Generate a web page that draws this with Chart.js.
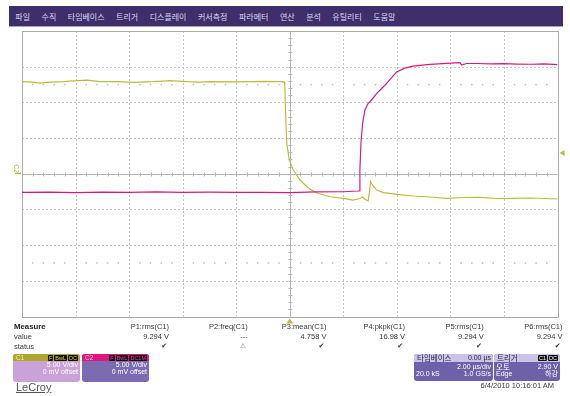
<!DOCTYPE html>
<html>
<head>
<meta charset="utf-8">
<script src="https://cdn.jsdelivr.net/npm/chart.js@4/dist/chart.umd.min.js"></script>
<style>
html,body{margin:0;padding:0;background:#fff;}
#wrap{position:relative;width:570px;height:396px;overflow:hidden;background:#fff;
  font-family:"Liberation Sans",Arial,"Noto Sans CJK KR",sans-serif;color:#333;}
#scope{position:absolute;left:0;top:0;}
#menu{position:absolute;left:9px;top:6px;width:554px;height:21px;background:#3e2e6c;
  border-bottom:1px solid #a9a3c4;display:flex;gap:11.5px;padding-left:6.3px;box-sizing:border-box;
  align-items:center;font:8px "Noto Sans CJK KR",sans-serif;color:#dcdaf0;}
.cell{position:absolute;font-size:7.5px;line-height:9px;white-space:nowrap;color:#3a3a3a;}
.rt{text-align:right;}
.box{position:absolute;border-radius:3px;overflow:hidden;color:#fff;font-size:7px;line-height:7.2px;}
.box .hd{height:7px;position:relative;font-size:6.5px;line-height:7px;}
.box .hd .nm{position:absolute;left:3px;top:0;}
.box .hd .bd{position:absolute;right:2px;top:0.5px;display:flex;gap:1px;}
.box .hd .bd b{background:#111;font-weight:normal;font-size:5.5px;line-height:6px;padding:0 1px;border-radius:1px;}
.box .row{position:relative;height:7.2px;padding:0 2px;}
.box .row .l{position:absolute;left:2px;}
.box .row .r{position:absolute;right:2px;}
</style>
</head>
<body>
<div id="wrap">
  <div id="menu"></div>
  <canvas id="scope" width="570" height="396"></canvas>
  <div id="meas"></div>

  <div class="box" style="left:13px;top:354px;width:67px;height:28px;background:#c8a2d8;">
    <div class="hd" style="background:#aea82a;"><span class="nm" style="color:#f4f0b0">C1</span>
      <span class="bd" style="color:#d9d24a"><b>F</b><b>BwL</b><b>DC</b></span></div>
    <div class="row"><span class="r">5.00 V/div</span></div>
    <div class="row"><span class="r">0 mV offset</span></div>
  </div>
  <div class="box" style="left:82px;top:354px;width:67px;height:28px;background:#7b6bb0;">
    <div class="hd" style="background:#e0177f;"><span class="nm" style="color:#ffc8e4">C2</span>
      <span class="bd" style="color:#ff3a9c"><b>F</b><b>BwL</b><b>DC1M</b></span></div>
    <div class="row"><span class="r">5.00 V/div</span></div>
    <div class="row"><span class="r">0 mV offset</span></div>
  </div>

  <div class="box" style="left:414px;top:354px;width:79px;height:27px;background:#6f60aa;">
    <div class="hd" style="background:#cbc4e8;color:#2e2a48;height:8px;line-height:8px;font-size:7px;">
      <span class="nm" style="font-family:'Noto Sans CJK KR';font-size:7.5px;">타임베이스</span>
      <span style="position:absolute;right:2px;">0.00 µs</span></div>
    <div class="row" style="margin-top:1px;"><span class="r">2.00 µs/div</span></div>
    <div class="row"><span class="l">20.0 kS</span><span class="r">1.0 GS/s</span></div>
  </div>
  <div class="box" style="left:494px;top:354px;width:66px;height:27px;background:#6f60aa;">
    <div class="hd" style="background:#cbc4e8;color:#2e2a48;height:8px;line-height:8px;">
      <span class="nm" style="font-family:'Noto Sans CJK KR';font-size:7.5px;">트리거</span>
      <span class="bd" style="color:#fff;top:1px;"><b>C1</b><b>DC</b></span></div>
    <div class="row" style="margin-top:1px;"><span class="l" style="font-family:'Noto Sans CJK KR';font-size:7.5px;">오토</span><span class="r">2.90 V</span></div>
    <div class="row"><span class="l">Edge</span><span class="r" style="font-family:'Noto Sans CJK KR';">하강</span></div>
  </div>

  <div class="cell rt" style="right:16px;top:381px;font-size:7.5px;">6/4/2010 10:16:01 AM</div>
  <div class="cell" style="left:16px;top:381px;font-size:11px;line-height:13px;color:#555;text-decoration:underline;text-underline-offset:1px;">LeCroy</div>
</div>

<script>
// Menu bar entries
const menuItems = ['파일','수직','타임베이스','트리거','디스플레이','커서측정','파라메터','연산','분석','유틸리티','도움말'];

// Horizontal axis: time in µs (2 µs/div); vertical axis: volts (5 V/div)
const timeTicks = [-10,-8,-6,-4,-2,0,2,4,6,8,10];
const voltTicks = [-20,-15,-10,-5,0,5,10,15,20];
const triggerTime = 0;
const triggerLevel = 2.90;

// Channel 1 (yellow)
const c1Time = [-10,-9.58,-9.33,-8.95,-8.46,-8.21,-7.58,-7.09,-6.46,-5.84,-5.1,-4.47,-3.85,-3.35,-3.0,-2.0,-1.0,-0.3,-0.2,
  -0.185,-0.16,-0.114,-0.017,0.133,0.383,0.693,1.007,1.503,2.0,2.37,2.62,2.725,2.81,2.93,2.985,3.02,3.07,3.12,3.25,3.49,3.99,
  4.60,5.24,5.86,6.47,7.11,7.74,8.34,8.97,9.53,10];
const c1Volts = [12.90,12.85,12.71,12.85,12.90,12.99,13.13,12.90,12.90,12.81,12.90,13.04,12.90,12.85,12.90,12.88,12.93,12.90,12.85,
  12.6,9.0,4.31,1.93,0.53,-0.88,-2.0,-2.70,-3.22,-3.44,-3.68,-3.47,-3.26,-3.61,-3.78,-2.28,-1.11,-1.44,-1.72,-2.28,-2.65,-2.88,
  -3.12,-3.26,-3.44,-3.33,-3.30,-3.47,-3.44,-3.40,-3.47,-3.54];

// Channel 2 (magenta)
const c2Time = [-10,-9,-8,-7,-6,-5,-4,-3,-2,-1,0,1,2,2.55,2.60,2.62,2.66,2.72,2.81,2.93,3.0,3.25,3.49,3.74,3.99,4.3,4.60,
  5.24,5.86,6.36,6.42,6.6,7.0,7.5,8.0,8.5,9.0,9.5,10];
const c2Volts = [-2.62,-2.58,-2.64,-2.57,-2.62,-2.55,-2.60,-2.58,-2.62,-2.60,-2.64,-2.55,-2.52,-2.42,-2.40,0.53,4.27,7.07,8.93,9.87,10.09,11.27,12.15,13.2,14.25,14.8,15.09,
  15.33,15.47,15.58,15.24,15.45,15.45,15.40,15.43,15.37,15.34,15.40,15.30];

// Measurement readout
const paramNames = ['P1:rms(C1)','P2:freq(C1)','P3:mean(C1)','P4:pkpk(C1)','P5:rms(C1)','P6:rms(C1)'];
const paramValues = ['9.294 V','---','4.758 V','16.98 V','9.294 V','9.294 V'];
const paramStatus = ['ok','warn','ok','ok','ok','ok'];

const C1_COLOR = '#bfbb3c';
const C2_COLOR = '#d81a80';

// ---- menu ----
const menu = document.getElementById('menu');
menuItems.forEach(t => { const s = document.createElement('span'); s.textContent = t; menu.appendChild(s); });

// ---- measurement table ----
const meas = document.getElementById('meas');
function cell(text, css, cls) {
  const d = document.createElement('div');
  d.className = 'cell ' + (cls || '');
  d.textContent = text;
  d.style.cssText = css;
  meas.appendChild(d);
}
cell('Measure', 'left:14px;top:322px;font-weight:bold;font-size:7.8px;color:#222;');
cell('value', 'left:14px;top:332px;');
cell('status', 'left:14px;top:342px;');
paramNames.forEach((n, i) => {
  const right = 570 - (169 + 78.7 * i);
  cell(n, 'right:' + right + 'px;top:322px;', 'rt');
  cell(paramValues[i], 'right:' + right + 'px;top:332px;', 'rt');
  const ok = paramStatus[i] === 'ok';
  cell(ok ? '✔' : '⚠', 'right:' + (right + 2) + 'px;top:342px;font-family:"DejaVu Sans";font-size:' + (ok ? 7 : 6.5) + 'px;color:' + (ok ? '#333' : '#777') + ';', 'rt');
});

// ---- oscilloscope graticule ----
const graticule = {
  id: 'graticule',
  beforeDatasetsDraw(chart) {
    const {ctx, chartArea: a, scales: {x, y}} = chart;
    ctx.save();
    ctx.lineWidth = 1;
    // dashed division lines
    ctx.strokeStyle = '#c4c4c4';
    ctx.setLineDash([2, 2]);
    timeTicks.forEach(t => {
      if (t === 0 || t === timeTicks[0] || t === timeTicks[timeTicks.length - 1]) return;
      const px = Math.round(x.getPixelForValue(t)) + 0.5;
      ctx.beginPath(); ctx.moveTo(px, a.top); ctx.lineTo(px, a.bottom); ctx.stroke();
    });
    voltTicks.forEach(v => {
      if (v === 0 || v === voltTicks[0] || v === voltTicks[voltTicks.length - 1]) return;
      const py = Math.round(y.getPixelForValue(v)) + 0.5;
      ctx.beginPath(); ctx.moveTo(a.left, py); ctx.lineTo(a.right, py); ctx.stroke();
    });
    ctx.setLineDash([]);
    // centre cross with minor ticks
    ctx.strokeStyle = '#b4b4b4';
    const cx = Math.round(x.getPixelForValue(0)) + 0.5;
    const cy = Math.round(y.getPixelForValue(0)) + 0.5;
    ctx.beginPath(); ctx.moveTo(cx, a.top); ctx.lineTo(cx, a.bottom);
    ctx.moveTo(a.left, cy); ctx.lineTo(a.right, cy); ctx.stroke();
    ctx.beginPath();
    for (let t = timeTicks[0]; t <= timeTicks[timeTicks.length - 1] + 1e-9; t += 0.4) {
      const px = Math.round(x.getPixelForValue(t)) + 0.5;
      ctx.moveTo(px, cy - 2); ctx.lineTo(px, cy + 2);
    }
    for (let v = voltTicks[0]; v <= voltTicks[voltTicks.length - 1] + 1e-9; v += 1) {
      const py = Math.round(y.getPixelForValue(v)) + 0.5;
      ctx.moveTo(cx - 2, py); ctx.lineTo(cx + 2, py);
    }
    ctx.stroke();
    // dotted rows at ±2.5 div
    ctx.fillStyle = '#c2c2c2';
    [-12.5, 12.5].forEach(v => {
      const py = y.getPixelForValue(v);
      for (let t = timeTicks[0]; t <= timeTicks[timeTicks.length - 1] + 1e-9; t += 0.4) {
        if (Math.abs(t / 2 - Math.round(t / 2)) < 1e-6) continue;
        const px = x.getPixelForValue(t);
        ctx.beginPath(); ctx.arc(px, py, 0.9, 0, Math.PI * 2); ctx.fill();
      }
    });
    // frame
    ctx.strokeStyle = '#aaaaaa';
    ctx.strokeRect(Math.round(a.left) + 0.5, Math.round(a.top) + 0.5,
                   Math.round(a.right - a.left), Math.round(a.bottom - a.top));
    ctx.restore();
  },
  afterDraw(chart) {
    const {ctx, chartArea: a, scales: {x, y}} = chart;
    ctx.save();
    ctx.fillStyle = C1_COLOR;
    // trigger position marker
    const tx = x.getPixelForValue(triggerTime);
    ctx.beginPath(); ctx.moveTo(tx, a.bottom + 2); ctx.lineTo(tx - 3.5, a.bottom + 7); ctx.lineTo(tx + 3.5, a.bottom + 7); ctx.closePath(); ctx.fill();
    // trigger level marker
    const ty = y.getPixelForValue(triggerLevel);
    ctx.beginPath(); ctx.moveTo(a.right + 2, ty); ctx.lineTo(a.right + 7, ty - 3); ctx.lineTo(a.right + 7, ty + 3); ctx.closePath(); ctx.fill();
    // channel ground reference
    const gy = y.getPixelForValue(0);
    ctx.fillRect(a.left - 7, gy - 1, 6, 1.5);
    ctx.translate(a.left - 6, gy - 5);
    ctx.rotate(Math.PI / 2);
    ctx.font = '7px "Liberation Sans", Arial';
    ctx.textAlign = 'center';
    ctx.textBaseline = 'middle';
    ctx.fillStyle = '#b9b24a';
    ctx.fillText('C2', 0, 0);
    ctx.restore();
  }
};

const toXY = (ts, vs) => ts.map((t, i) => ({x: t, y: vs[i]}));

new Chart(document.getElementById('scope'), {
  type: 'line',
  data: {
    datasets: [
      {label: 'C2', data: toXY(c2Time, c2Volts), borderColor: C2_COLOR, borderWidth: 1.2, pointRadius: 0, tension: 0, fill: false},
      {label: 'C1', data: toXY(c1Time, c1Volts), borderColor: C1_COLOR, borderWidth: 1.2, pointRadius: 0, tension: 0, fill: false}
    ]
  },
  options: {
    responsive: false,
    animation: false,
    events: [],
    layout: {padding: {left: 22, top: 31, right: 12.5, bottom: 79.5}},
    plugins: {legend: {display: false}, tooltip: {enabled: false}},
    scales: {
      x: {type: 'linear', min: timeTicks[0], max: timeTicks[timeTicks.length - 1], display: false},
      y: {type: 'linear', min: voltTicks[0], max: voltTicks[voltTicks.length - 1], display: false}
    }
  },
  plugins: [graticule]
});
</script>
</body>
</html>
